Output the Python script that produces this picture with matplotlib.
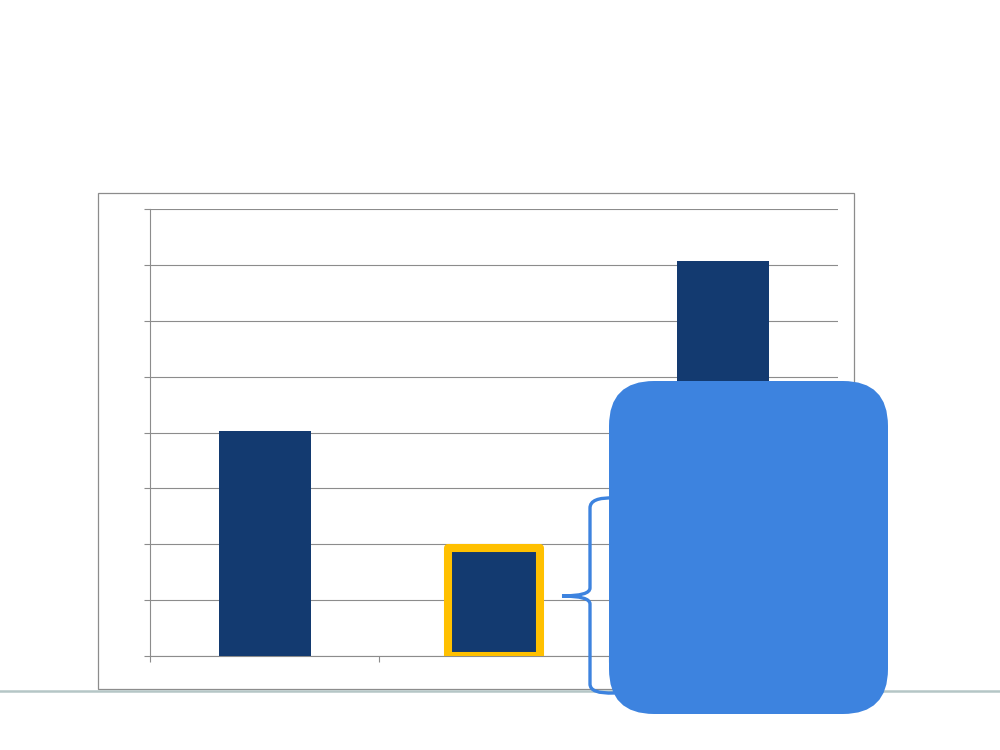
import matplotlib.pyplot as plt
from matplotlib.patches import Rectangle, FancyBboxPatch, PathPatch
from matplotlib.path import Path

# bar data (no labels shown in the picture)
categories = ["1", "2", "3"]
values = [4.02, 1.94, 7.07]
highlight = [False, True, False]

bar_color = "#133a70"
hl_color = "#ffc000"
callout_color = "#3d83df"
grid_color = "#8c8c8c"

fig = plt.figure(figsize=(10, 7.5), dpi=100)

# outer chart frame
fig.patches.append(Rectangle((0.098, 0.0813), 0.756, 0.6613, transform=fig.transFigure,
                             fill=False, edgecolor=grid_color, lw=0.9, zorder=0))

ax = fig.add_axes([0.15, 0.1253, 0.688, 0.596])
for i, v in enumerate(values):
    if highlight[i]:
        ax.bar(i, v, width=0.4, color=bar_color, edgecolor=hl_color, lw=5.8,
               joinstyle="round", zorder=3)
    else:
        ax.bar(i, v, width=0.4, color=bar_color, zorder=3)

ax.set_xlim(-0.5, len(categories) - 0.5)
ax.set_ylim(0, 8)
ax.set_yticks(range(0, 9))
ax.set_yticklabels([])
ax.set_xticks([-0.5, 0.5, 1.5, 2.5])
ax.set_xticklabels([])
ax.yaxis.grid(True, color=grid_color, lw=0.8)
ax.set_axisbelow(True)
ax.tick_params(axis="both", color=grid_color, length=4, width=0.8)
for s in ["top", "right"]:
    ax.spines[s].set_visible(False)
for s in ["left", "bottom"]:
    ax.spines[s].set_color(grid_color)
    ax.spines[s].set_linewidth(0.8)


def px(xp, yp):
    return (xp / 1000, 1 - yp / 750)


# bottom slide line
fig.add_artist(plt.Line2D([0, 1], [1 - 690.5 / 750] * 2, transform=fig.transFigure,
                          color="#b5c6c6", lw=1.8, zorder=1))

# curly brace
verts = [px(614, 498), px(590, 497), px(590, 508), px(590, 588),
         px(590, 596), px(562, 596), px(590, 596), px(590, 604),
         px(590, 684), px(590, 694), px(614, 693)]
codes = [Path.MOVETO, Path.CURVE3, Path.CURVE3, Path.LINETO,
         Path.CURVE3, Path.CURVE3, Path.CURVE3, Path.CURVE3,
         Path.LINETO, Path.CURVE3, Path.CURVE3]
fig.patches.append(PathPatch(Path(verts, codes), transform=fig.transFigure,
                             fill=False, edgecolor=callout_color, lw=2.4,
                             capstyle="round", zorder=4))

# rounded callout box
fig.patches.append(FancyBboxPatch((609 / 1000, 1 - 714 / 750), 279 / 1000, 333 / 750,
                                  boxstyle="round,pad=0,rounding_size=0.045",
                                  mutation_aspect=1000 / 750,
                                  transform=fig.transFigure, facecolor=callout_color,
                                  edgecolor="none", zorder=5))

fig.savefig("out.png", dpi=100)
